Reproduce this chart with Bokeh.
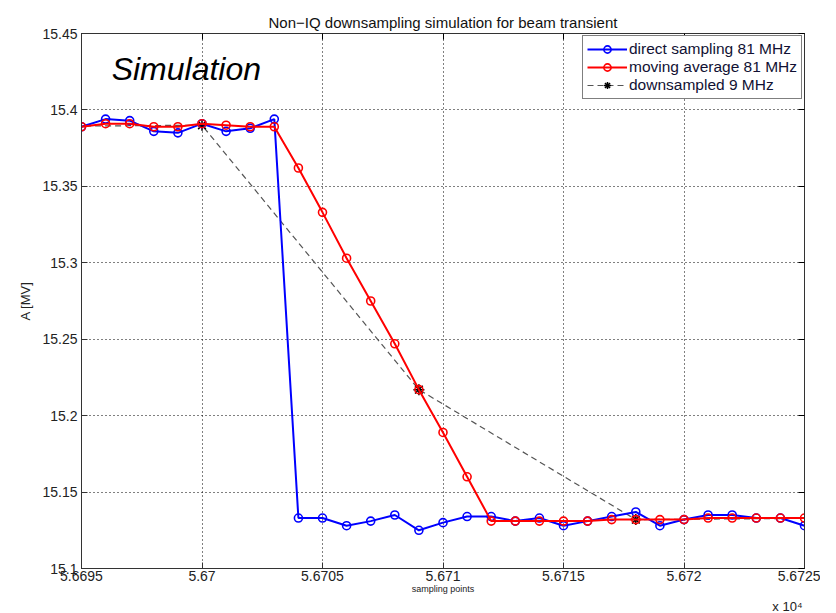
from bokeh.plotting import figure
from bokeh.models import (FixedTicker, LinearAxis, Label, Legend, LegendItem, Range1d, Title)
from bokeh.embed import file_html
from bokeh.resources import INLINE

# ---- data ----
x_points = list(range(56695, 56726))
direct_sampling = [15.389, 15.394, 15.393, 15.386, 15.385, 15.391, 15.386, 15.388, 15.394,
                   15.133, 15.133, 15.128, 15.131, 15.135, 15.125, 15.130, 15.134, 15.134,
                   15.131, 15.133, 15.128, 15.131, 15.134, 15.137, 15.128, 15.132, 15.135,
                   15.135, 15.133, 15.133, 15.128]
moving_average = [15.389, 15.391, 15.391, 15.389, 15.389, 15.391, 15.390, 15.389, 15.389,
                  15.362, 15.333, 15.303, 15.275, 15.247, 15.217, 15.189, 15.160, 15.131,
                  15.131, 15.131, 15.131, 15.131, 15.132, 15.132, 15.132, 15.132, 15.133,
                  15.133, 15.133, 15.133, 15.133]
down_x = [56691, 56700, 56709, 56718, 56727]
downsampled = [15.389, 15.390, 15.217, 15.132, 15.133]

x_ticks = [56695, 56700, 56705, 56710, 56715, 56720, 56725]
x_tick_labels = ["5.6695", "5.67", "5.6705", "5.671", "5.6715", "5.672", "5.6725"]
y_ticks = [15.1, 15.15, 15.2, 15.25, 15.3, 15.35, 15.4, 15.45]
y_tick_labels = ["15.1", "15.15", "15.2", "15.25", "15.3", "15.35", "15.4", "15.45"]

FONT = "Liberation Sans"

p = figure(width=820, height=613, output_backend="svg", toolbar_location=None,
           x_range=Range1d(56695, 56725), y_range=Range1d(15.1, 15.45),
           min_border_left=81, min_border_right=16, min_border_top=33, min_border_bottom=20)
p.background_fill_color = "white"
p.border_fill_color = "white"
p.outline_line_color = "black"
p.outline_line_width = 1

p.title = Title(text="Non\u2212IQ downsampling simulation for beam transient", align="center",
                text_font=FONT, text_font_size="15px", text_font_style="normal",
                text_color="#111111", standoff=6, offset=-5)

# axes styling
for ax in [p.xaxis[0], p.yaxis[0]]:
    ax.major_tick_in = 6
    ax.major_tick_out = 0
    ax.minor_tick_in = 0
    ax.minor_tick_out = 0
    ax.axis_line_color = "#333333"
    ax.major_tick_line_color = "#333333"
    ax.major_label_text_font = FONT
    ax.major_label_text_font_size = "14px"
    ax.major_label_text_color = "#222222"
    ax.axis_label_text_font = FONT
    ax.axis_label_text_font_style = "normal"
    ax.axis_label_text_color = "#222222"

p.xaxis[0].ticker = FixedTicker(ticks=x_ticks)
p.xaxis[0].major_label_overrides = {t: l for t, l in zip(x_ticks, x_tick_labels)}
p.xaxis[0].axis_label = "sampling points"
p.xaxis[0].axis_label_text_font_size = "9px"
p.xaxis[0].axis_label_standoff = 0
p.xaxis[0].major_label_standoff = 2

p.yaxis[0].ticker = FixedTicker(ticks=y_ticks)
p.yaxis[0].major_label_overrides = {t: l for t, l in zip(y_ticks, y_tick_labels)}
p.yaxis[0].axis_label = "A [MV]"
p.yaxis[0].axis_label_text_font_size = "13px"
p.yaxis[0].axis_label_standoff = 6
p.yaxis[0].major_label_standoff = 4

# top/right axes for the MATLAB box ticks (labels not drawn)
top = LinearAxis(ticker=FixedTicker(ticks=x_ticks), major_label_text_font_size="6px",
                 major_label_text_color=None, major_label_standoff=0,
                 major_tick_in=6, major_tick_out=0, minor_tick_in=0, minor_tick_out=0,
                 axis_line_color="#333333")
right = LinearAxis(ticker=FixedTicker(ticks=y_ticks), major_label_text_font_size="6px",
                   major_label_text_color=None, major_label_standoff=0,
                   major_tick_in=6, major_tick_out=0, minor_tick_in=0, minor_tick_out=0,
                   axis_line_color="#333333")
p.add_layout(top, "above")
p.add_layout(right, "right")

# exponent note below the axis, right aligned
p.add_layout(Title(text="x 10\u2074", align="right", text_font=FONT, text_font_size="13px",
                   text_font_style="normal", text_color="#222222", standoff=0,
                   text_line_height=0.1, offset=2), "below")

# grid
p.xgrid.ticker = FixedTicker(ticks=x_ticks)
p.ygrid.ticker = FixedTicker(ticks=y_ticks)
for g in [p.xgrid[0], p.ygrid[0]]:
    g.grid_line_color = "black"
    g.grid_line_dash = "1 3"
    g.grid_line_width = 1
    g.grid_line_alpha = 1.0

# series
dl = p.line(down_x, downsampled, line_color="#555555", line_dash="6 4", line_width=1.2)
ds = p.scatter(down_x, downsampled, marker="asterisk", size=11, line_color="black", line_width=1.5)

bl = p.line(x_points, direct_sampling, line_color="#0000ff", line_width=2)
bs = p.scatter(x_points, direct_sampling, marker="circle", size=8, fill_color=None,
               line_color="#0000ff", line_width=1.6)

rl = p.line(x_points, moving_average, line_color="#ff0000", line_width=2)
rs = p.scatter(x_points, moving_average, marker="circle", size=8, fill_color=None,
               line_color="#ff0000", line_width=1.6)

legend = Legend(items=[
    LegendItem(label="direct sampling 81 MHz", renderers=[bl, bs]),
    LegendItem(label="moving average 81 MHz", renderers=[rl, rs]),
    LegendItem(label="downsampled 9 MHz", renderers=[dl, ds]),
], location="top_right")
legend.label_text_font = FONT
legend.label_text_font_size = "15.5px"
legend.label_text_color = "#111133"
legend.border_line_color = "black"
legend.border_line_width = 1
legend.background_fill_color = "white"
legend.background_fill_alpha = 1
legend.glyph_width = 40
legend.glyph_height = 18
legend.spacing = 0
legend.padding = 4
legend.margin = 2
legend.label_standoff = 2
legend.label_height = 18
p.add_layout(legend)

# annotations
p.add_layout(Label(x=56696.25, y=15.4265, text="Simulation", text_font=FONT,
                   text_font_style="italic", text_font_size="32px", text_color="black",
                   text_baseline="middle"))

open("out.html", "w").write(file_html(p, INLINE))
